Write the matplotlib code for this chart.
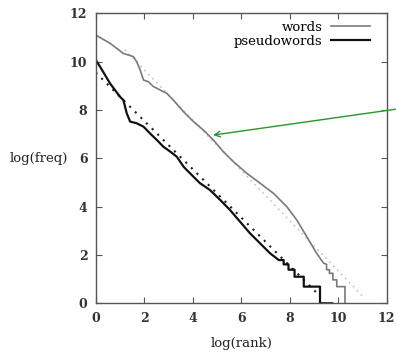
import matplotlib
matplotlib.use("Agg")
import matplotlib.pyplot as plt

plt.rcParams["font.family"] = ["DejaVu Serif"]

# words: log(rank) vs log(freq)
words_x = [0.00, 0.59, 1.14, 1.55, 1.69, 1.83, 1.97, 2.17, 2.38, 2.65, 2.93, 3.20,
           3.62, 4.03, 4.44, 4.85, 5.26, 5.68, 6.23, 6.78, 7.33, 7.88, 8.29, 8.70,
           9.11, 9.40, 9.52, 9.52, 9.64, 9.64, 9.78, 9.78, 9.94, 9.94, 10.28, 10.28]
words_y = [11.10, 10.76, 10.34, 10.21, 10.00, 9.66, 9.24, 9.17, 8.97, 8.83, 8.69, 8.41,
           7.93, 7.52, 7.17, 6.76, 6.28, 5.86, 5.38, 4.97, 4.55, 4.00, 3.45, 2.76,
           2.07, 1.66, 1.61, 1.39, 1.39, 1.24, 1.24, 0.97, 0.97, 0.69, 0.69, 0.00]

# pseudowords
pseudo_x = [0.00, 0.18, 0.59, 1.00, 1.14, 1.28, 1.42, 1.69, 1.97, 2.24, 2.52, 2.79,
            3.07, 3.34, 3.62, 3.75, 4.03, 4.30, 4.71, 5.13, 5.54, 5.95, 6.36, 6.78,
            7.19, 7.55, 7.75, 7.75, 7.95, 7.95, 8.20, 8.20, 8.58, 8.58, 9.25, 9.25, 9.75]
pseudo_y = [10.07, 9.79, 9.10, 8.55, 8.41, 7.86, 7.52, 7.45, 7.31, 7.03, 6.76, 6.48,
            6.28, 6.07, 5.66, 5.52, 5.24, 4.97, 4.69, 4.28, 3.86, 3.38, 2.90, 2.48,
            2.07, 1.79, 1.79, 1.61, 1.61, 1.39, 1.39, 1.10, 1.10, 0.69, 0.69, 0.00, 0.00]

# fitted straight lines (dotted)
words_fit_x = [1.2, 11.0]
words_fit_y = [10.5, 0.3]
pseudo_fit_x = [0.0, 9.1]
pseudo_fit_y = [9.55, 0.45]

ticks = [0, 2, 4, 6, 8, 10, 12]

fig = plt.figure(figsize=(3.96, 3.54), dpi=100)
ax = fig.add_axes([0.2417, 0.1432, 0.7348, 0.8192])

ax.plot(words_fit_x, words_fit_y, color="#c4c4c4", lw=1.2, ls=(0, (1, 2.4)))
ax.plot(pseudo_fit_x, pseudo_fit_y, color="#222222", lw=1.5, ls=(0, (1, 2.8)))
ax.plot(words_x, words_y, color="#7a7a7a", lw=1.2, label="words")
ax.plot(pseudo_x, pseudo_y, color="#111111", lw=1.6, label="pseudowords")

ax.set_xlim(0, 12)
ax.set_ylim(0, 12)
ax.set_xticks(ticks)
ax.set_yticks(ticks)
ax.tick_params(direction="in", length=4, width=0.8, color="#555555",
               top=True, right=True, labelsize=9, pad=6)
for lab in ax.get_xticklabels() + ax.get_yticklabels():
    lab.set_fontweight("bold")
    lab.set_color("#333333")
for s in ax.spines.values():
    s.set_color("#555555")
    s.set_linewidth(1.0)

ax.set_xlabel("log(rank)", fontsize=9.5, color="#222222")
ax.xaxis.set_label_coords(0.5, -0.137)
ax.xaxis.label.set_va("center")
ax.set_ylabel("log(freq)", fontsize=9.5, rotation=0, ha="right", va="center",
              color="#222222")
ax.yaxis.set_label_coords(-0.095, 0.5)

ax.legend(loc="upper right", bbox_to_anchor=(0.943, 0.975), frameon=False,
          markerfirst=False, fontsize=9.5, handlelength=3.0, handletextpad=0.6,
          labelspacing=0.1, borderpad=0, borderaxespad=0)

ax.annotate("", xy=(4.84, 6.96), xytext=(12.5, 8.05), annotation_clip=False,
            arrowprops=dict(arrowstyle="->", color="#2a962a", lw=1.0,
                            shrinkA=0, shrinkB=0))

fig.savefig("out.png", dpi=100)
